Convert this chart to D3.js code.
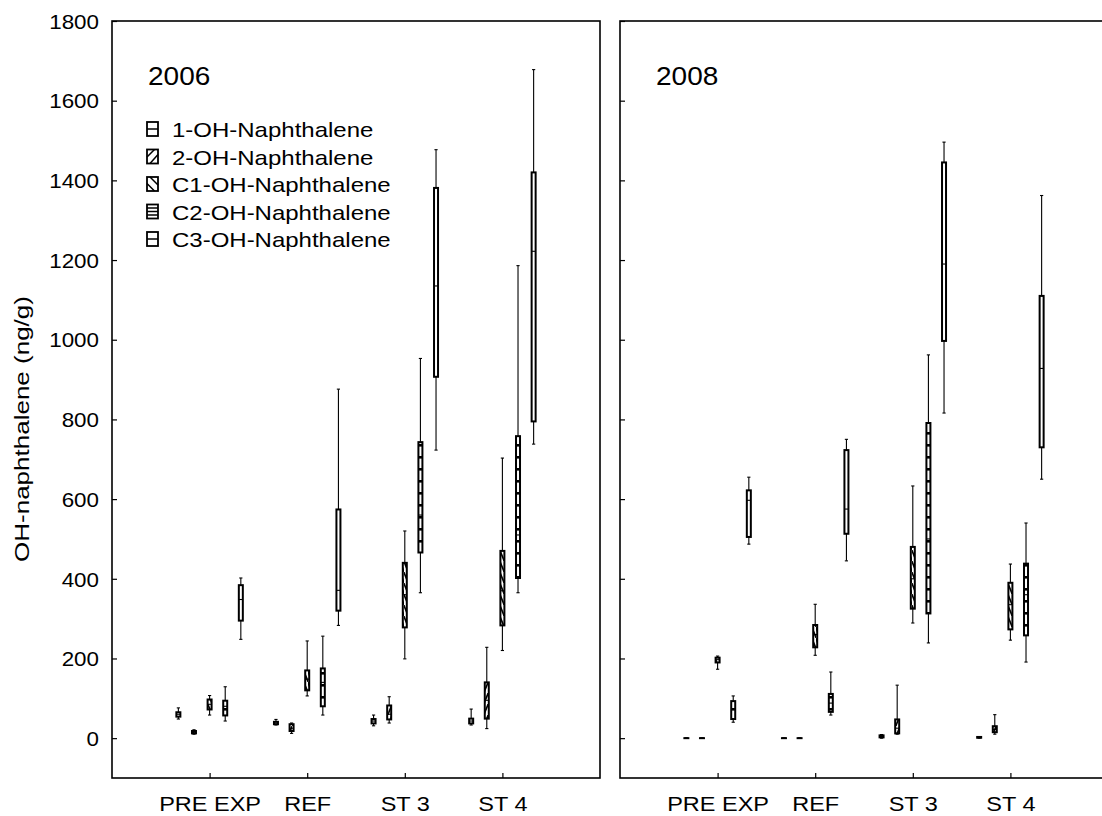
<!DOCTYPE html>
<html><head><meta charset="utf-8">
<script src="https://cdn.jsdelivr.net/npm/d3@7"></script>
<style>
body{margin:0;background:#fff}
svg{display:block}
text{font-family:"Liberation Sans",Arial,Helvetica,sans-serif;fill:#000}
</style>
</head><body>
<svg id="chart" width="1102" height="816"></svg>
<script>
// ---------- data ----------
const categories = ["PRE EXP", "REF", "ST 3", "ST 4"];
const seriesNames = ["1-OH-Naphthalene", "2-OH-Naphthalene", "C1-OH-Naphthalene", "C2-OH-Naphthalene", "C3-OH-Naphthalene"];
const years = ["2006", "2008"];
const yTicks = [0, 200, 400, 600, 800, 1000, 1200, 1400, 1600, 1800];
const yLabel = "OH-naphthalene (ng/g)";
// each entry: [min, q1, median, q3, max] for PRE EXP, REF, ST 3, ST 4
const oh1_2006 = [[48,54,60,65,76],[33,35,38,41,47],[31,37,43,48,58],[33,37,43,49,73]];
const oh2_2006 = [[10,12,15,18,21],[12,18,25,35,38],[38,47,60,82,104],[24,49,95,140,228]];
const c1_2006  = [[58,72,85,97,107],[106,120,148,170,244],[199,278,360,440,520],[220,283,370,470,703]];
const c2_2006  = [[43,57,80,94,129],[58,80,140,175,256],[365,466,560,743,953],[365,402,510,758,1186]];
const c3_2006  = [[248,295,348,384,402],[283,320,371,574,876],[723,907,1135,1381,1477],[738,795,1222,1420,1678]];
const oh1_2008 = [[0,0,0,0,0],[0,0,0,0,0],[0,2,4,7,9],[0,1,2,3,4]];
const oh2_2008 = [[0,0,0,0,0],[0,0,0,0,0],[10,12,25,47,133],[10,15,22,30,59]];
const c1_2008  = [[173,190,197,202,206],[208,228,260,284,336],[289,325,400,480,633],[246,273,335,390,437]];
const c2_2008  = [[40,48,72,93,106],[58,66,88,111,166],[239,313,500,791,962],[191,258,360,438,540]];
const c3_2008  = [[487,505,597,622,655],[445,513,575,723,750],[816,997,1190,1445,1496],[650,730,928,1110,1362]];

const panelData = [
  [oh1_2006, oh2_2006, c1_2006, c2_2006, c3_2006],
  [oh1_2008, oh2_2008, c1_2008, c2_2008, c3_2008]
];

// ---------- layout ----------
const svg = d3.select("#chart");
const yTop = 21, yBottom = 778;
const panels = [{x0: 112, x1: 600}, {x0: 620, x1: 1108}];
const offsets = [-0.32, -0.16, 0, 0.16, 0.32];
const fills = ["url(#pNone)", "url(#pSlash)", "url(#pBack)", "url(#pHoriz)", "url(#pNone)"];
const SX = 1.12;

const y = d3.scaleLinear().domain([-100, 1800]).range([yBottom, yTop]);

// ---------- patterns ----------
const defs = svg.append("defs");
function pat(id, w, h, build) {
  const p = defs.append("pattern").attr("id", id).attr("patternUnits", "userSpaceOnUse")
    .attr("width", w).attr("height", h);
  p.append("rect").attr("width", w).attr("height", h).attr("fill", "#fff");
  build(p);
}
pat("pNone", 4, 4, () => {});
pat("pSlash", 4, 11, p => p.append("path").attr("d", "M-1,13 L5,-2").attr("stroke", "#000").attr("stroke-width", 1.6));
pat("pBack", 4, 11, p => p.append("path").attr("d", "M-1,-2 L5,13").attr("stroke", "#000").attr("stroke-width", 1.6));
pat("pHoriz", 4, 12, p => p.append("rect").attr("y", 0).attr("width", 4).attr("height", 2.6).attr("fill", "#000"));

svg.insert("rect", "defs").attr("width", 1102).attr("height", 816).attr("fill", "#fff");

panels.forEach((pn, pi) => {
  const x = d3.scaleLinear().domain([0, 5]).range([pn.x0, pn.x1]);
  const g = svg.append("g");

  // frame
  g.append("rect").attr("x", pn.x0).attr("y", yTop).attr("width", pn.x1 - pn.x0).attr("height", yBottom - yTop)
    .attr("fill", "none").attr("stroke", "#000").attr("stroke-width", 1.6);

  // y axis
  const yAxis = d3.axisLeft(y).tickValues(yTicks).tickSizeInner(-5).tickSizeOuter(0).tickPadding(13)
    .tickFormat(pi === 0 ? d3.format("d") : () => "");
  const ya = g.append("g").attr("transform", `translate(${pn.x0},0)`).call(yAxis);
  ya.select(".domain").remove();
  ya.selectAll("line").attr("stroke", "#000").attr("stroke-width", 1.2);
  ya.selectAll("text").attr("font-size", 20).attr("font-family", null)
    .attr("x", -13 / SX).attr("dy", "0.36em").attr("transform", `scale(${SX},1)`);

  // x axis
  const xAxis = d3.axisBottom(x).tickValues([1, 2, 3, 4]).tickSizeInner(-5).tickSizeOuter(0).tickPadding(18)
    .tickFormat(d => categories[d - 1]);
  const xa = g.append("g").attr("transform", `translate(0,${yBottom})`).call(xAxis);
  xa.select(".domain").remove();
  xa.selectAll("line").attr("stroke", "#000").attr("stroke-width", 1.2);
  xa.selectAll("text").attr("font-size", 21).attr("font-family", null)
    .attr("y", 33).attr("dy", null).attr("transform", `scale(${SX},1)`)
    .attr("x", 0);

  // boxes
  const data = panelData[pi];
  data.forEach((series, si) => {
    series.forEach((d, ci) => {
      const cx = x(ci + 1 + offsets[si]);
      const [mn, q1, md, q3, mx] = d;
      const bg = g.append("g");
      bg.append("line").attr("x1", cx).attr("x2", cx).attr("y1", y(mn)).attr("y2", y(mx))
        .attr("stroke", "#000").attr("stroke-width", 1.1);
      [mn, mx].forEach(v => bg.append("line").attr("x1", cx - 1.6).attr("x2", cx + 1.6)
        .attr("y1", y(v)).attr("y2", y(v)).attr("stroke", "#000").attr("stroke-width", 1.1));
      bg.append("rect").attr("x", cx - 2).attr("width", 4)
        .attr("y", y(q3)).attr("height", Math.max(0.01, y(q1) - y(q3)))
        .attr("fill", fills[si]).attr("stroke", "#000").attr("stroke-width", 2);
      bg.append("line").attr("x1", cx - 2).attr("x2", cx + 2).attr("y1", y(md)).attr("y2", y(md))
        .attr("stroke", "#000").attr("stroke-width", 1.1);
    });
  });

  // year label
  g.append("text").attr("transform", `translate(${pn.x0 + 36},85) scale(${SX},1)`)
    .attr("font-size", 25).text(years[pi]);
});

// y label
svg.append("text").attr("transform", `translate(29,429) rotate(-90) scale(1.3,1)`)
  .attr("text-anchor", "middle").attr("font-size", 20).text(yLabel);

// legend
const lg = svg.append("g").attr("transform", "translate(147,122)");
seriesNames.forEach((name, i) => {
  const row = lg.append("g").attr("transform", `translate(0,${i * 27.5})`);
  row.append("rect").attr("x", 0).attr("y", 0).attr("width", 11).attr("height", 14)
    .attr("fill", "#fff").attr("stroke", "#000").attr("stroke-width", 1.8);
  let d = "";
  if (i === 0 || i === 4) d = "M0,7 L11,7";
  if (i === 1) d = "M0,7.5 L7.5,0 M3,14 L11,5";
  if (i === 2) d = "M0,6.5 L7.5,14 M3,0 L11,8";
  if (i === 3) d = "M0,3.5 L11,3.5 M0,7 L11,7 M0,10.5 L11,10.5";
  row.append("path").attr("d", d).attr("stroke", "#000").attr("stroke-width", 1.5).attr("fill", "none");
  row.append("text").attr("transform", `translate(25,15) scale(1.2,1)`).attr("font-size", 20).text(name);
});
</script>
</body></html>
